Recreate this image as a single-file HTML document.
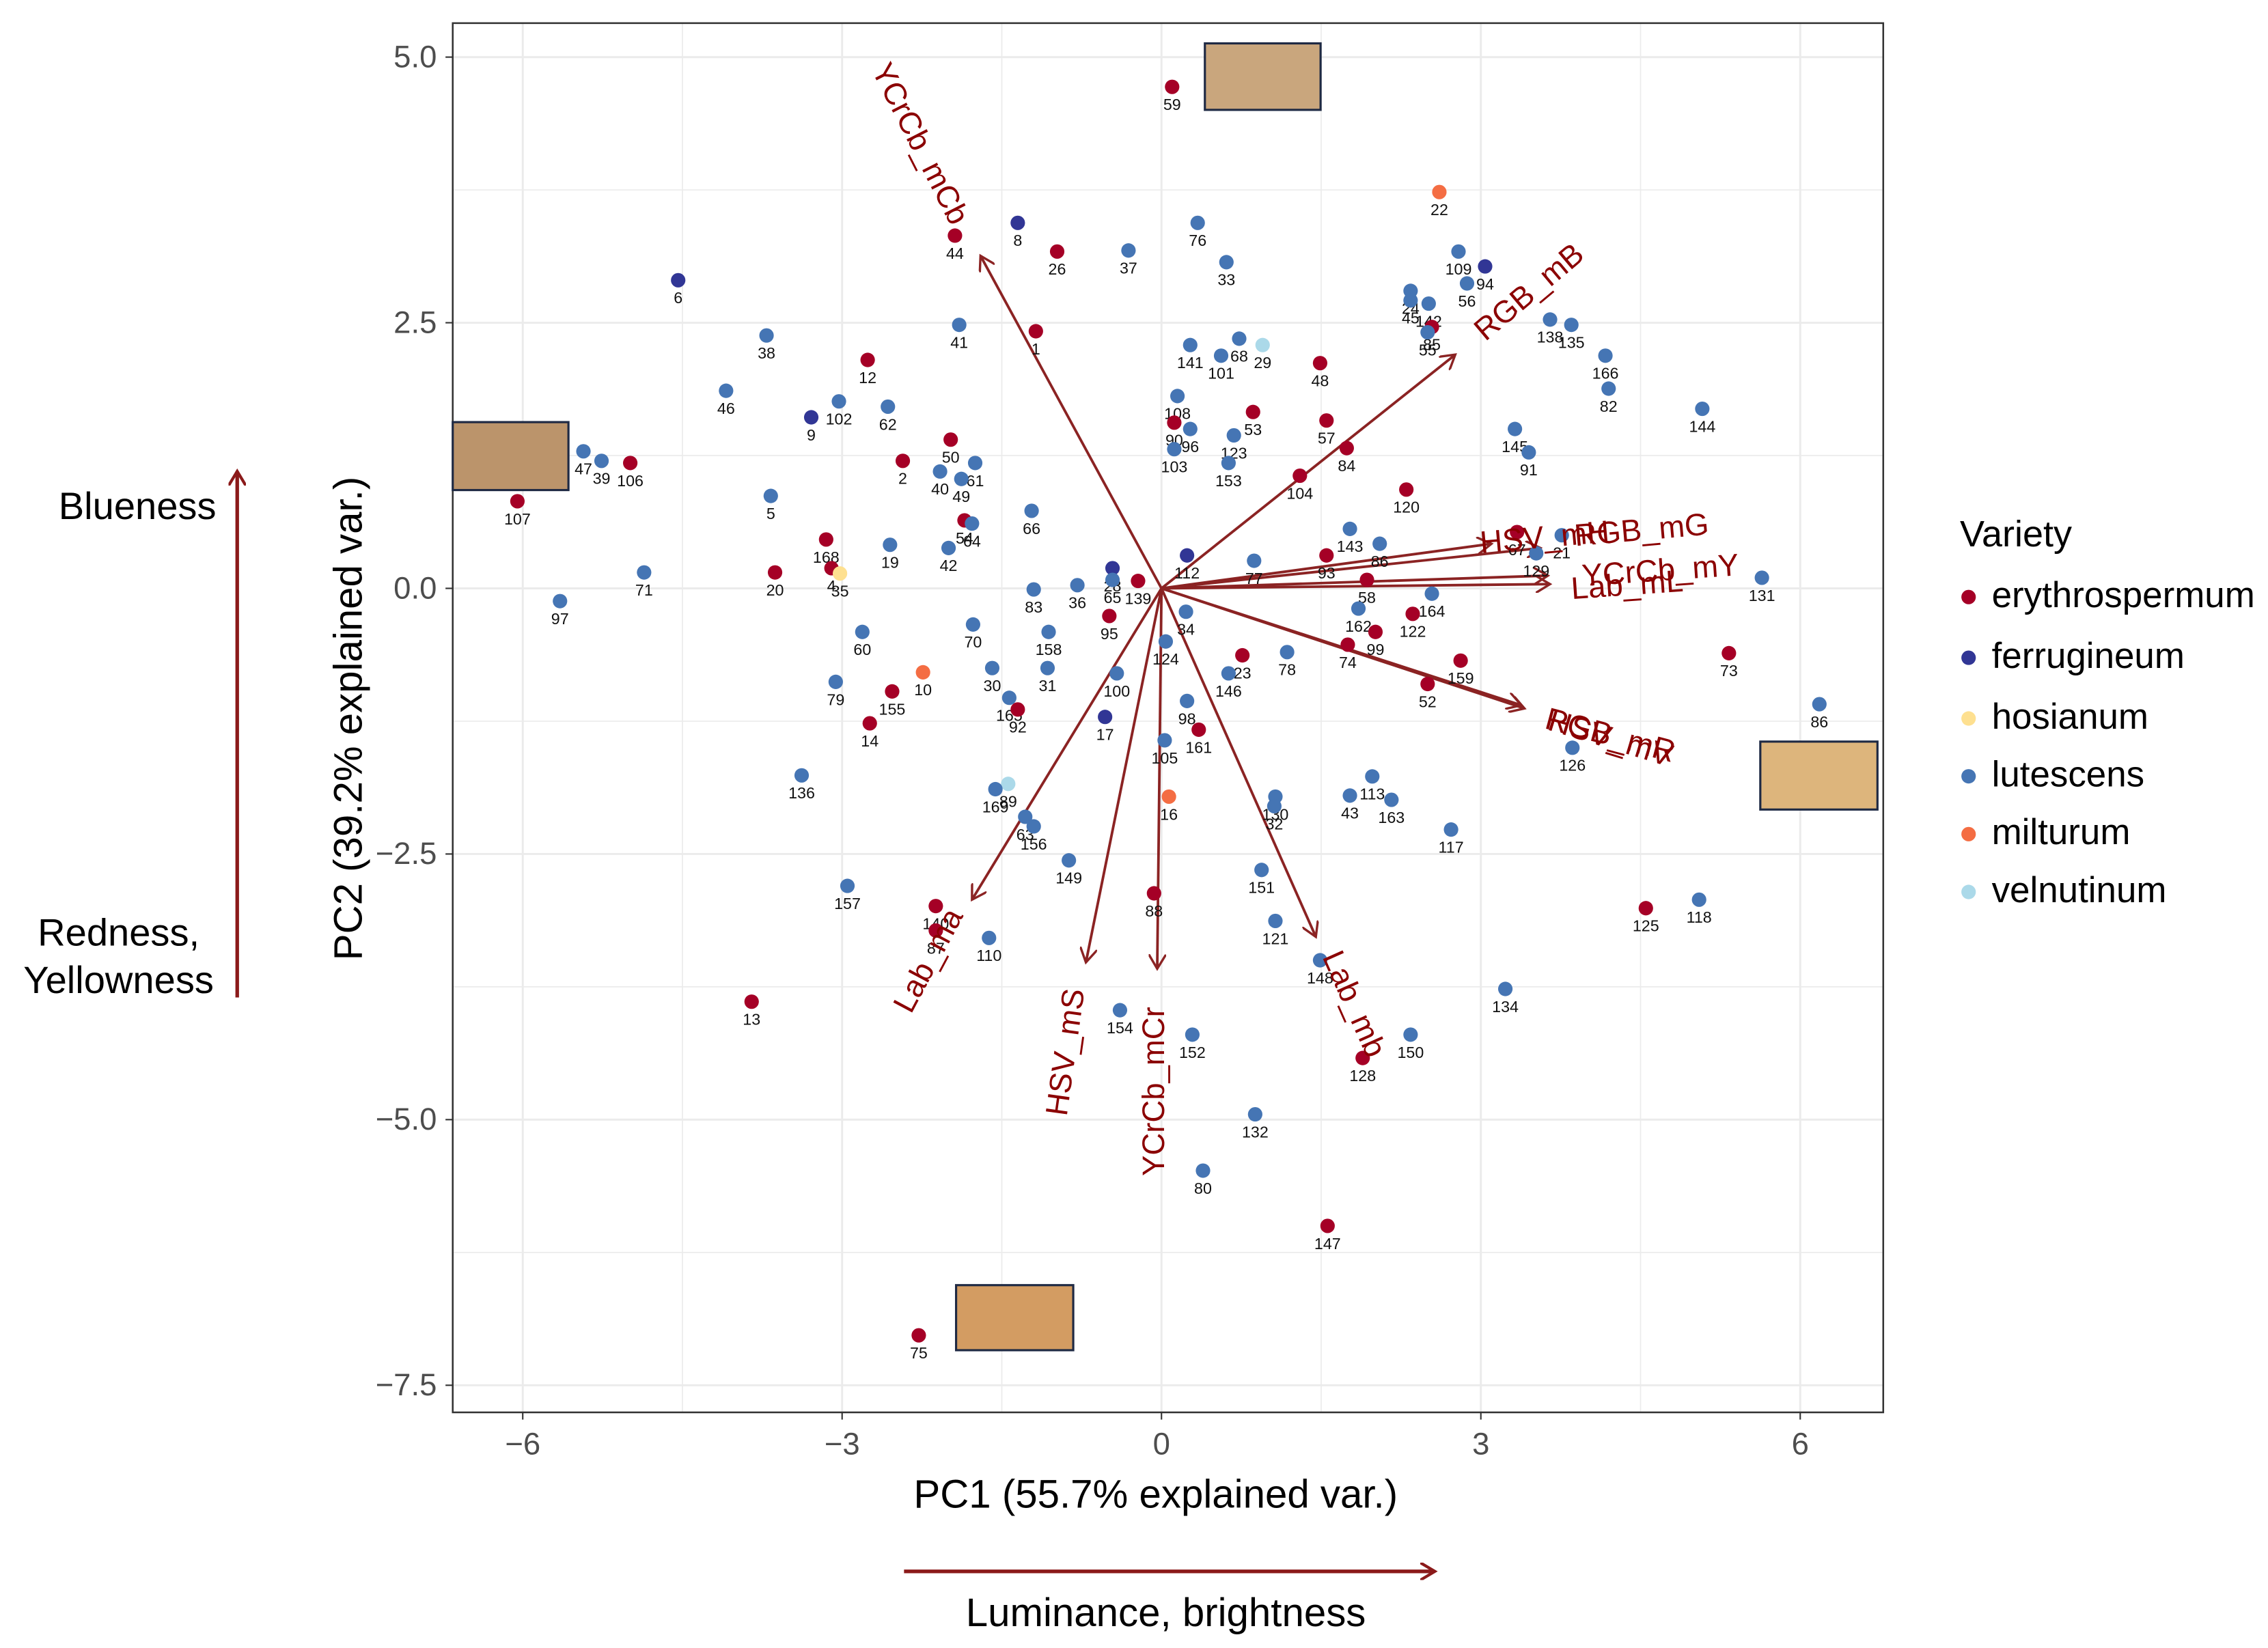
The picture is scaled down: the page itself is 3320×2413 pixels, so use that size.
<!DOCTYPE html>
<html><head><meta charset="utf-8"><style>
html,body{margin:0;padding:0;background:#fff}
svg{display:block;font-family:"Liberation Sans",Arial,sans-serif}
</style></head><body>
<svg id="chart" width="3320" height="2413" viewBox="0 0 1568 1140" preserveAspectRatio="none" xmlns="http://www.w3.org/2000/svg">
<defs><marker id="ah" markerWidth="12" markerHeight="12" refX="10" refY="6" orient="auto" markerUnits="userSpaceOnUse"><path d="M0,0 L10,6 L0,12" fill="none" stroke="#8b2323" stroke-width="1.6"/></marker>
<marker id="ah2" markerWidth="12" markerHeight="12" refX="10" refY="6" orient="auto" markerUnits="userSpaceOnUse"><path d="M0,0 L10,6 L0,12" fill="none" stroke="#8b1a1a" stroke-width="2"/></marker></defs>
<rect x="313" y="16" width="989" height="961" fill="#fff"/>
<g id="grid"></g><g id="arrows"></g><g id="pts"></g>
<rect x="313" y="16" width="989" height="961" fill="none" stroke="#333" stroke-width="1.2"/>
<g stroke="#1f2a44" stroke-width="1.5">
<rect x="833" y="30" width="80" height="46" fill="#c9a67d"/>
<rect x="313" y="292" width="80" height="47" fill="#bb946b"/>
<rect x="1217" y="513" width="81" height="47" fill="#ddb57c"/>
<rect x="661" y="889" width="81" height="45" fill="#d39c62"/>
</g>
<g id="ticks"></g>
<text x="799" y="1043" text-anchor="middle" font-size="27.5">PC1 (55.7% explained var.)</text>
<text transform="translate(250,497) rotate(-90)" text-anchor="middle" font-size="27.5">PC2 (39.2% explained var.)</text>
<text x="95" y="359" text-anchor="middle" font-size="26.5">Blueness</text>
<text x="82" y="654" text-anchor="middle" font-size="26.5">Redness,</text>
<text x="82" y="687" text-anchor="middle" font-size="26.5">Yellowness</text>
<line x1="164" y1="690" x2="164" y2="326" stroke="#8b1a1a" stroke-width="2.5" marker-end="url(#ah2)"/>
<line x1="625" y1="1087" x2="992" y2="1087" stroke="#8b1a1a" stroke-width="2.5" marker-end="url(#ah2)"/>
<text x="806" y="1125" text-anchor="middle" font-size="27.5">Luminance, brightness</text>
<g id="legend">
<text x="1355" y="378" font-size="25.5">Variety</text>
</g>
</svg>
<script>
const ids=[59,76,33,8,44,26,37,6,22,109,94,56,24,45,142,85,55,138,135,166,82,144,38,41,1,141,68,29,101,48,12,46,102,62,9,108,53,57,90,96,123,103,153,84,104,145,91,47,39,106,107,5,50,61,40,49,2,66,54,64,120,143,86,93,67,21,129,131,168,4,35,19,42,20,71,97,112,77,28,65,139,36,83,58,164,34,95,162,122,99,70,158,60,124,23,78,74,159,146,73,30,31,100,10,79,155,52,86,98,161,165,92,14,17,105,126,136,89,169,113,43,163,130,32,16,63,156,117,149,151,157,88,140,125,118,121,87,110,148,13,134,154,152,150,128,132,80,147,75];
const xs=[0.10,0.34,0.61,-1.35,-1.94,-0.98,-0.31,-4.54,2.61,2.79,3.04,2.87,2.34,2.34,2.51,2.54,2.50,3.65,3.85,4.17,4.20,5.08,-3.71,-1.90,-1.18,0.27,0.73,0.95,0.56,1.49,-2.76,-4.09,-3.03,-2.57,-3.29,0.15,0.86,1.55,0.12,0.27,0.68,0.12,0.63,1.74,1.30,3.32,3.45,-5.43,-5.26,-4.99,-6.05,-3.67,-1.98,-1.75,-2.08,-1.88,-2.43,-1.22,-1.85,-1.78,2.30,1.77,2.05,1.55,3.34,3.76,3.52,5.64,-3.15,-3.10,-3.02,-2.55,-2.00,-3.63,-4.86,-5.65,0.24,0.87,-0.46,-0.46,-0.22,-0.79,-1.20,1.93,2.54,0.23,-0.49,1.85,2.36,2.01,-1.77,-1.06,-2.81,0.04,0.76,1.18,1.75,2.81,0.63,5.33,-1.59,-1.07,-0.42,-2.24,-3.06,-2.53,2.50,6.18,0.24,0.35,-1.43,-1.35,-2.74,-0.53,0.03,3.86,-3.38,-1.44,-1.56,1.98,1.77,2.16,1.07,1.06,0.07,-1.28,-1.20,2.72,-0.87,0.94,-2.95,-0.07,-2.12,4.55,5.05,1.07,-2.12,-1.62,1.49,-3.85,3.23,-0.39,0.29,2.34,1.89,0.88,0.39,1.56,-2.28];
const ys=[4.72,3.44,3.07,3.44,3.32,3.17,3.18,2.90,3.73,3.17,3.03,2.87,2.80,2.71,2.68,2.46,2.41,2.53,2.48,2.19,1.88,1.69,2.38,2.48,2.42,2.29,2.35,2.29,2.19,2.12,2.15,1.86,1.76,1.71,1.61,1.81,1.66,1.58,1.56,1.50,1.44,1.31,1.18,1.32,1.06,1.50,1.28,1.29,1.20,1.18,0.82,0.87,1.40,1.18,1.10,1.03,1.20,0.73,0.64,0.61,0.93,0.56,0.42,0.31,0.53,0.50,0.33,0.10,0.46,0.19,0.14,0.41,0.38,0.15,0.15,-0.12,0.31,0.26,0.19,0.08,0.07,0.03,-0.01,0.08,-0.05,-0.22,-0.26,-0.19,-0.24,-0.41,-0.34,-0.41,-0.41,-0.50,-0.63,-0.60,-0.53,-0.68,-0.80,-0.61,-0.75,-0.75,-0.80,-0.79,-0.88,-0.97,-0.90,-1.09,-1.06,-1.33,-1.03,-1.14,-1.27,-1.21,-1.43,-1.50,-1.76,-1.84,-1.89,-1.77,-1.95,-1.99,-1.96,-2.05,-1.96,-2.15,-2.24,-2.27,-2.56,-2.65,-2.80,-2.87,-2.99,-3.01,-2.93,-3.13,-3.22,-3.29,-3.50,-3.89,-3.77,-3.97,-4.20,-4.20,-4.42,-4.95,-5.48,-6.00,-7.03];
const vars=['e','l','l','f','e','e','l','f','m','l','f','l','l','l','l','e','l','l','l','l','l','l','l','l','e','l','l','v','l','e','e','l','l','l','f','l','e','e','e','l','l','l','l','e','e','l','l','l','l','e','e','l','e','l','l','l','e','l','e','l','e','l','l','e','e','l','l','l','e','e','h','l','l','e','l','l','f','l','f','l','e','l','l','e','l','l','e','l','e','e','l','l','l','l','e','l','e','e','l','e','l','l','l','m','l','e','e','l','l','e','l','e','e','f','l','l','l','v','l','l','l','l','l','l','m','l','l','l','l','l','l','e','e','e','l','l','e','l','l','e','l','l','l','l','e','l','l','e','e'];
const loadNames=['YCrCb_mCb','RGB_mB','HSV_mH','RGB_mG','YCrCb_mY','Lab_mL','RGB_mR','HSV_mV','Lab_ma','HSV_mS','YCrCb_mCr','Lab_mb'];
const loadX=[-1.70,2.76,3.10,3.56,3.63,3.65,3.41,3.38,-1.78,-0.71,-0.04,1.45];
const loadY=[3.13,2.20,0.42,0.38,0.12,0.04,-1.13,-1.10,-2.93,-3.52,-3.58,-3.28];
const xTicks=[-6,-3,0,3,6];
const yTicks=[-7.5,-5,-2.5,0,2.5,5];
const yTickLabels=['\u22127.5','\u22125.0','\u22122.5','0.0','2.5','5.0'];
const xTickLabels=['\u22126','\u22123','0','3','6'];
const varNames={e:'erythrospermum',f:'ferrugineum',h:'hosianum',l:'lutescens',m:'milturum',v:'velnutinum'};
const varColors={e:'#a50026',f:'#313695',h:'#fee090',l:'#4575b4',m:'#f46d43',v:'#abd9e9'};
const NS='http://www.w3.org/2000/svg';
const sx=v=>803+v*73.6, sy=v=>407-v*73.5;
function mk(tag,attrs,parent){const e=document.createElementNS(NS,tag);for(const k in attrs)e.setAttribute(k,attrs[k]);parent.appendChild(e);return e;}
const grid=document.getElementById('grid');
for(let v=-6;v<=6.01;v+=1.5){const l=mk('line',{x1:sx(v),x2:sx(v),y1:16,y2:977,stroke:'#ebebeb','stroke-width':(v%3===0)?1.4:0.8},grid);

}
for(let v=-7.5;v<=5.01;v+=1.25){const l=mk('line',{y1:sy(v),y2:sy(v),x1:313,x2:1302,stroke:'#ebebeb','stroke-width':(Math.abs(v%2.5)<0.01)?1.4:0.8},grid);

}
const tk=document.getElementById('ticks');
xTicks.forEach((v,i)=>{mk('line',{x1:sx(v),x2:sx(v),y1:977,y2:982,stroke:'#333'},tk);
const t=mk('text',{x:sx(v),y:1006,'text-anchor':'middle','font-size':21.5,fill:'#4d4d4d'},tk);t.textContent=xTickLabels[i];

});
yTicks.forEach((v,i)=>{mk('line',{x1:308,x2:313,y1:sy(v),y2:sy(v),stroke:'#333'},tk);
const t=mk('text',{x:302,y:sy(v)+7,'text-anchor':'end','font-size':21.5,fill:'#4d4d4d'},tk);t.textContent=yTickLabels[i];

});
const pts=document.getElementById('pts');
ids.forEach((id,i)=>{const c=mk('circle',{cx:sx(xs[i]),cy:sy(ys[i]),r:5,fill:varColors[vars[i]]},pts);


const t=mk('text',{x:sx(xs[i]),y:sy(ys[i])+16,'text-anchor':'middle','font-size':11,fill:'#111'},pts);t.textContent=id;

});
const ar=document.getElementById('arrows');
const labPos=[[635,100,63],[1058,203,-40],[1068,373,-5],[1135,368,-5],[1148,396,-4],[1125,406,-4],[1113,510,15],[1113,512,17],[643,665,-62],[738,728,-82],[799,755,-90],[935,695,66]];
loadNames.forEach((n,i)=>{const l=mk('line',{x1:803,y1:407,x2:sx(loadX[i]),y2:sy(loadY[i]),stroke:'#8b2323','stroke-width':1.8,'marker-end':'url(#ah)'},ar);

});
loadNames.forEach((n,i)=>{const p=labPos[i];const t=mk('text',{transform:`translate(${p[0]},${p[1]}) rotate(${p[2]})`,'text-anchor':'middle','dominant-baseline':'middle','font-size':21.5,fill:'#8b0000'},pts);t.textContent=n;

});
const lg=document.getElementById('legend');
['e','f','h','l','m','v'].forEach((k,i)=>{const y=[411,453,495,535,575,615][i];
const g=mk('g',{},lg);


mk('circle',{cx:1361,cy:y+2,r:5,fill:varColors[k]},g);
const t=mk('text',{x:1377,y:y+9,'font-size':25},g);t.textContent=varNames[k];});
</script>
</body></html>
